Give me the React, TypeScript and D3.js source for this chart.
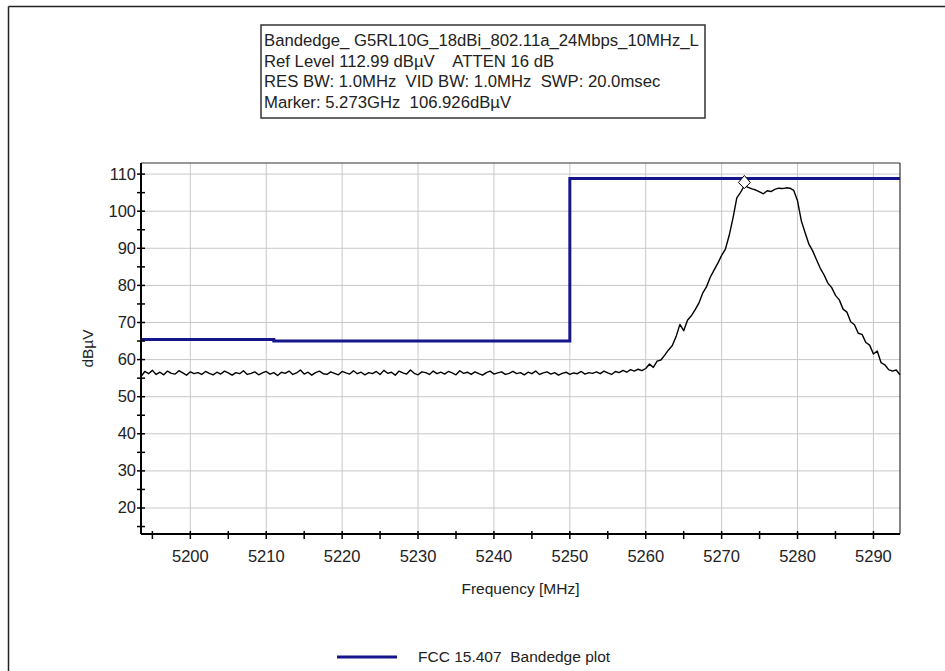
import React from "react";
import * as d3 from "d3";

// header box lines
const headerLines = [
  "Bandedge_ G5RL10G_18dBi_802.11a_24Mbps_10MHz_L",
  "Ref Level 112.99 dBµV    ATTEN 16 dB",
  "RES BW: 1.0MHz  VID BW: 1.0MHz  SWP: 20.0msec",
  "Marker: 5.273GHz  106.926dBµV",
];

const xTicks = [5200, 5210, 5220, 5230, 5240, 5250, 5260, 5270, 5280, 5290];
const xMinor = [5195, 5205, 5215, 5225, 5235, 5245, 5255, 5265, 5275, 5285];
const yTicks = [20, 30, 40, 50, 60, 70, 80, 90, 100, 110];
const yMinor = [15, 25, 35, 45, 55, 65, 75, 85, 95, 105];

// limit line (FCC 15.407)
const limitFreq = [5193.5, 5211, 5211, 5250, 5250, 5293.5];
const limitLevel = [65.4, 65.4, 65.0, 65.0, 108.8, 108.8];

// marker
const markerFreq = 5273;
const markerLevel = 106.926;

// measured trace [MHz, dBµV]
const trace: [number, number][] = [
  [5193.5, 55.4], [5194, 56.8], [5194.5, 56.2], [5195, 57.1], [5195.5, 56.0], [5196, 56.6], [5196.5, 55.9], [5197, 56.9],
  [5197.5, 56.3], [5198, 56.1], [5198.5, 57.0], [5199, 56.4], [5199.5, 55.8], [5200, 56.7], [5200.5, 56.2], [5201, 56.5],
  [5201.5, 56.0], [5202, 56.8], [5202.5, 56.3], [5203, 55.9], [5203.5, 56.6], [5204, 56.1], [5204.5, 56.9], [5205, 56.4],
  [5205.5, 55.8], [5206, 56.5], [5206.5, 56.2], [5207, 57.0], [5207.5, 56.0], [5208, 56.3], [5208.5, 56.7], [5209, 55.9],
  [5209.5, 56.4], [5210, 56.8], [5210.5, 56.1], [5211, 56.5], [5211.5, 55.7], [5212, 56.6], [5212.5, 56.3], [5213, 56.9],
  [5213.5, 56.0], [5214, 56.4], [5214.5, 57.2], [5215, 56.1], [5215.5, 56.6], [5216, 55.8], [5216.5, 56.5], [5217, 56.9],
  [5217.5, 56.2], [5218, 56.0], [5218.5, 56.7], [5219, 56.3], [5219.5, 55.9], [5220, 56.8], [5220.5, 56.4], [5221, 56.1],
  [5221.5, 57.0], [5222, 56.2], [5222.5, 56.6], [5223, 55.9], [5223.5, 56.5], [5224, 56.2], [5224.5, 56.8], [5225, 56.0],
  [5225.5, 57.1], [5226, 56.3], [5226.5, 56.6], [5227, 55.8], [5227.5, 56.9], [5228, 56.4], [5228.5, 56.1], [5229, 57.2],
  [5229.5, 56.3], [5230, 55.9], [5230.5, 56.7], [5231, 56.5], [5231.5, 56.0], [5232, 56.9], [5232.5, 56.2], [5233, 56.6],
  [5233.5, 56.1], [5234, 56.8], [5234.5, 56.4], [5235, 55.9], [5235.5, 57.0], [5236, 56.3], [5236.5, 56.6], [5237, 56.0],
  [5237.5, 56.7], [5238, 56.2], [5238.5, 55.8], [5239, 56.5], [5239.5, 56.9], [5240, 56.1], [5240.5, 56.4], [5241, 56.7],
  [5241.5, 56.0], [5242, 56.3], [5242.5, 56.8], [5243, 56.2], [5243.5, 56.5], [5244, 55.9], [5244.5, 56.6], [5245, 56.2],
  [5245.5, 56.9], [5246, 56.0], [5246.5, 56.4], [5247, 56.7], [5247.5, 56.1], [5248, 56.5], [5248.5, 55.8], [5249, 56.3],
  [5249.5, 56.6], [5250, 56.0], [5250.5, 56.4], [5251, 56.2], [5251.5, 56.8], [5252, 56.1], [5252.5, 56.5], [5253, 56.3],
  [5253.5, 56.7], [5254, 56.2], [5254.5, 56.9], [5255, 56.4], [5255.5, 56.0], [5256, 56.8], [5256.5, 56.5], [5257, 57.1],
  [5257.5, 56.6], [5258, 57.3], [5258.5, 56.9], [5259, 57.4], [5259.5, 57.0],
  [5260, 57.6], [5260.5, 58.8], [5261, 57.9], [5261.5, 59.6], [5262, 59.9], [5262.5, 61.2], [5263, 62.6], [5263.5, 63.8],
  [5264, 66.2], [5264.5, 69.5], [5265, 67.8], [5265.5, 70.6], [5266, 71.8], [5266.5, 73.4], [5267, 75.2], [5267.5, 77.9],
  [5268, 79.6], [5268.5, 82.2], [5269, 84.1], [5269.5, 86.0], [5270, 88.1], [5270.5, 89.8], [5271, 93.5], [5271.5, 98.2],
  [5272, 103.6], [5272.5, 105.1], [5273, 106.9], [5273.5, 106.4], [5274, 106.0], [5274.5, 105.7], [5275, 105.2], [5275.5, 104.7],
  [5276, 105.5], [5276.5, 105.3], [5277, 105.9], [5277.5, 106.2], [5278, 106.1], [5278.5, 106.3], [5279, 106.2], [5279.5, 105.6],
  [5280, 102.8], [5280.5, 97.4], [5281, 94.2], [5281.5, 91.1], [5282, 89.3], [5282.5, 86.9], [5283, 84.6], [5283.5, 82.8],
  [5284, 80.6], [5284.5, 79.4], [5285, 77.3], [5285.5, 76.1], [5286, 73.6], [5286.5, 72.8], [5287, 70.2], [5287.5, 69.4],
  [5288, 67.1], [5288.5, 66.8], [5289, 64.6], [5289.5, 63.9], [5290, 61.5], [5290.5, 62.3], [5291, 59.2], [5291.5, 58.6],
  [5292, 57.3], [5292.5, 56.9], [5293, 57.2], [5293.5, 55.9],
];

const W = 945;
const H = 671;
const plot = { left: 141, right: 900, top: 163, bottom: 534 };
const font = "'Liberation Sans', Arial, sans-serif";
const navy = "#16168c";

export default function App() {
  const x = d3.scaleLinear().domain([5193.5, 5293.5]).range([plot.left, plot.right]);
  const y = d3.scaleLinear().domain([12.99, 112.99]).range([plot.bottom, plot.top]);

  const traceLine = d3
    .line<[number, number]>()
    .x((d) => x(d[0]))
    .y((d) => y(d[1]));

  const limitPath = d3
    .line<number>()
    .x((d, i) => x(limitFreq[i]))
    .y((d) => y(d))(limitLevel) as string;

  const mx = x(markerFreq);
  const my = y(markerLevel);

  return (
    <svg
      width={W}
      height={H}
      style={{ position: "absolute", left: 0, top: 0, background: "#fff" }}
      fontFamily={font}
    >
      <rect x={0} y={0} width={W} height={H} fill="#fff" />
      {/* outer frame */}
      <line x1={8.5} y1={6.5} x2={W} y2={6.5} stroke="#222" strokeWidth={1.5} />
      <line x1={8.5} y1={6.5} x2={8.5} y2={H} stroke="#222" strokeWidth={1.5} />

      {/* header box */}
      <rect x={261} y={25} width={444} height={93} fill="#fff" stroke="#333" strokeWidth={1.5} />
      {headerLines.map((t, i) => (
        <text key={i} x={264} y={46 + i * 20.5} fontSize={16.7} fill="#222" style={{ whiteSpace: "pre" }}>
          {t}
        </text>
      ))}

      {/* grid */}
      {xTicks.map((t) => (
        <line key={"gx" + t} x1={x(t)} x2={x(t)} y1={plot.top} y2={plot.bottom} stroke="#c8c8c8" strokeWidth={1} />
      ))}
      {yTicks.map((t) => (
        <line key={"gy" + t} x1={plot.left} x2={plot.right} y1={y(t)} y2={y(t)} stroke="#c8c8c8" strokeWidth={1} />
      ))}

      {/* plot frame */}
      <line x1={plot.left} x2={plot.right} y1={plot.top} y2={plot.top} stroke="#333" strokeWidth={1.2} />
      <line x1={plot.right} x2={plot.right} y1={plot.top} y2={plot.bottom} stroke="#333" strokeWidth={1.2} />

      {/* limit line */}
      <path d={limitPath} fill="none" stroke={navy} strokeWidth={3} />

      {/* trace */}
      <path d={traceLine(trace) as string} fill="none" stroke="#000" strokeWidth={1.4} strokeLinejoin="round" />

      {/* marker */}
      <path
        d={`M${mx},${my - 7}L${mx + 6},${my}L${mx},${my + 6}L${mx - 6},${my}Z`}
        fill="#fff"
        stroke="#000"
        strokeWidth={1}
        transform="translate(0,-3)"
      />

      {/* axes */}
      <line x1={plot.left} x2={plot.left} y1={plot.top} y2={plot.bottom} stroke="#000" strokeWidth={2} />
      <line x1={plot.left} x2={plot.right} y1={plot.bottom} y2={plot.bottom} stroke="#000" strokeWidth={2} />

      {yTicks.concat(yMinor).map((t) => (
        <line key={"ty" + t} x1={plot.left - 4} x2={plot.left + 4} y1={y(t)} y2={y(t)} stroke="#000" strokeWidth={1.5} />
      ))}
      {xTicks.concat(xMinor).map((t) => (
        <line key={"tx" + t} x1={x(t)} x2={x(t)} y1={plot.bottom - 3} y2={plot.bottom + 5} stroke="#000" strokeWidth={1.5} />
      ))}

      {yTicks.map((t) => (
        <text key={"ly" + t} x={plot.left - 5} y={y(t) + 5.5} textAnchor="end" fontSize={16.5} fill="#222">
          {t}
        </text>
      ))}
      {xTicks.map((t) => (
        <text key={"lx" + t} x={x(t)} y={562} textAnchor="middle" fontSize={16.5} fill="#222">
          {t}
        </text>
      ))}

      <text
        transform={`translate(93,${(plot.top + plot.bottom) / 2}) rotate(-90)`}
        textAnchor="middle"
        fontSize={15.5}
        fill="#222"
      >
        dBµV
      </text>
      <text x={(plot.left + plot.right) / 2} y={594} textAnchor="middle" fontSize={15.5} fill="#222">
        Frequency [MHz]
      </text>

      {/* legend */}
      <line x1={337} x2={397} y1={657} y2={657} stroke={navy} strokeWidth={3} />
      <text x={418} y={662} fontSize={15.5} fill="#222" style={{ whiteSpace: "pre" }}>
        FCC 15.407  Bandedge plot
      </text>
    </svg>
  );
}
